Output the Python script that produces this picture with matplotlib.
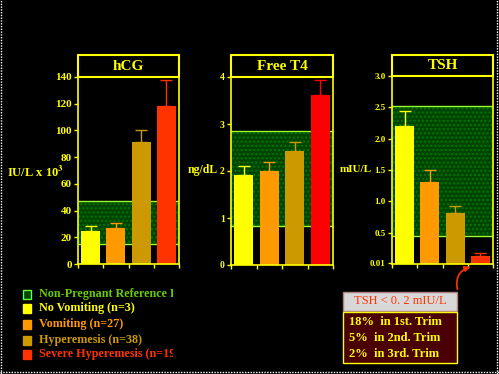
"""
Thyroid function vs vomiting severity in pregnancy: three bar panels
"""
import matplotlib
matplotlib.use("Agg")
from matplotlib import pyplot as plt
from matplotlib.patches import Rectangle, FancyArrowPatch
from matplotlib.lines import Line2D

plt.rcParams['font.family'] = ['Liberation Serif', 'DejaVu Serif']
plt.rcParams['font.weight'] = 'bold'
plt.rcParams['mathtext.fontset'] = 'stix'
plt.rcParams['hatch.linewidth'] = 1.0

groups = ['No Vomiting (n=3)', 'Vomiting (n=27)', 'Hyperemesis (n=38)', 'Severe Hyperemesis (n=19)']
bar_colors = ['#ffff00', '#ff9900', '#cc9900', '#ff3300']
t4_colors = ['#ffff00', '#ff9900', '#cc9900', '#ff0000']

hcg_mean = [25, 27, 91, 118]
hcg_err = [3.5, 3.8, 9, 19.5]
hcg_ref = (15, 47)
hcg_ticks = [0, 20, 40, 60, 80, 100, 120, 140]

t4_mean = [1.92, 2.0, 2.42, 3.61]
t4_err = [0.18, 0.2, 0.19, 0.33]
t4_ref = (0.83, 2.85)
t4_ticks = [0, 1, 2, 3, 4]

tsh_mean = [2.21, 1.31, 0.82, 0.13]
tsh_err = [0.23, 0.19, 0.11, 0.05]
tsh_ref = (0.45, 2.52)
tsh_ticks = [0.01, 0.5, 1.0, 1.5, 2.0, 2.5, 3.0]
tsh_ticklabels = ['0.01', '0.5', '1.0', '1.5', '2.0', '2.5', '3.0']

trim_lines = ['18%  in 1st. Trim', '5%  in 2nd. Trim', '2%  in 3rd. Trim']

YEL = '#ffff00'
W, H = 499, 374


def px(x0, y0, x1, y1):
    # pixel box (top-left origin) -> figure fraction rect
    return [x0 / W, 1 - y1 / H, (x1 - x0) / W, (y1 - y0) / H]


fig = plt.figure(figsize=(4.99, 3.74), dpi=100, facecolor='black')


def panel(rect, title, means, errs, colors, ref, ticks, ticklabels, ylim, tsize, ylabel, ylab_xy, ylab_size):
    ax = fig.add_axes(px(*rect))
    ax.set_facecolor('black')
    ax.axhspan(ref[0], ref[1], facecolor='#004400', hatch='....', edgecolor='#007700', lw=0, zorder=0)
    ax.axhline(ref[0], color='#99ff33', lw=1, zorder=1)
    ax.axhline(ref[1], color='#99ff33', lw=1, zorder=1)
    xs = [0.5, 1.5, 2.5, 3.5]
    for i in range(4):
        ax.bar(xs[i], means[i], width=0.76, color=colors[i], zorder=2)
        ax.errorbar(xs[i], means[i], yerr=[[0], [errs[i]]], ecolor=colors[i],
                    elinewidth=1, capsize=4, capthick=1, fmt='none', zorder=3)
    ax.set_xlim(0, 4)
    ax.set_ylim(*ylim)
    ax.set_xticks([0, 1, 2, 3, 4])
    ax.set_xticklabels([])
    ax.set_yticks(ticks)
    ax.set_yticklabels(ticklabels)
    ax.tick_params(colors=YEL, labelsize=tsize, length=3, width=1, pad=1.5)
    for s in ax.spines.values():
        s.set_color(YEL)
        s.set_linewidth(1.2)
    # title box above the axes
    tb = px(rect[0], 55, rect[2], rect[1])
    fig.add_artist(Rectangle((tb[0], tb[1]), tb[2], tb[3], transform=fig.transFigure,
                             facecolor='black', edgecolor=YEL, lw=1.5))
    fig.text(tb[0] + tb[2] / 2, tb[1] + tb[3] / 2, title, color=YEL, fontsize=11,
             ha='center', va='center')
    fig.text(ylab_xy[0] / W, 1 - ylab_xy[1] / H, ylabel, color=YEL, fontsize=ylab_size,
             ha='center', va='center')
    return ax


panel((78, 77, 179, 264), 'hCG', hcg_mean, hcg_err, bar_colors, hcg_ref, hcg_ticks,
      [str(t) for t in hcg_ticks], (0, 140), 8, r'IU/L x 10$^{\mathbf{3}}$', (36, 172), 9)
panel((231, 77, 333, 265), 'Free T4', t4_mean, t4_err, t4_colors, t4_ref, t4_ticks,
      [str(t) for t in t4_ticks], (0, 4), 7, 'ng/dL', (203, 170), 8.5)
ax3 = panel((392, 76, 493, 264), 'TSH', tsh_mean, tsh_err, bar_colors, tsh_ref, tsh_ticks,
            tsh_ticklabels, (0, 3.0), 6.5, 'mIU/L', (356, 169), 8)

# legend
leg_colors = ['#004400'] + bar_colors
leg_text_colors = ['#66cc00', YEL, '#ff9900', '#cc9900', '#ff3300']
leg_labels = ['Non-Pregnant Reference Range'] + groups
leg_y = [294, 308, 324, 340, 354]
for i in range(5):
    ec = '#66ff33' if i == 0 else leg_colors[i]
    fig.add_artist(Rectangle((23 / W, 1 - (leg_y[i] + 4.5) / H), 8 / W, 9 / H,
                             transform=fig.transFigure, facecolor=leg_colors[i],
                             edgecolor=ec, lw=1))
    clip = Rectangle((0, 0), 173 / W, 1, transform=fig.transFigure, visible=False)
    fig.add_artist(clip)
    t = fig.text(39 / W, 1 - leg_y[i] / H, leg_labels[i], color=leg_text_colors[i],
                 fontsize=8.7, ha='left', va='center')
    t.set_clip_path(clip)
    t.set_clip_on(True)

# TSH annotation boxes
b1 = px(343, 292, 457, 311)
fig.add_artist(Rectangle((b1[0], b1[1]), b1[2], b1[3], transform=fig.transFigure,
                         facecolor='#d8d8d8', edgecolor='#b08080', lw=1))
fig.text(b1[0] + b1[2] / 2, b1[1] + b1[3] / 2, 'TSH < 0. 2 mIU/L', color='#ff3300',
         fontsize=9, fontweight='normal', ha='center', va='center')
b2 = px(343, 312, 457, 363)
fig.add_artist(Rectangle((b2[0], b2[1]), b2[2], b2[3], transform=fig.transFigure,
                         facecolor='#4a0000', edgecolor=YEL, lw=1))
for i, s in enumerate(trim_lines):
    fig.text(349 / W, 1 - (322 + 16 * i) / H, s, color=YEL, fontsize=9,
             ha='left', va='center')

fig.add_artist(FancyArrowPatch((458 / W, 1 - 292 / H), (473 / W, 1 - 266 / H),
                               transform=fig.transFigure, connectionstyle='arc3,rad=-0.5',
                               arrowstyle='-|>', mutation_scale=8, color='#ff3300', lw=1.2))

# dotted frame
for xy in [((1 / W, 1 / W), (0, 1)), ((497 / W, 497 / W), (0, 1)), ((0, 1), (1 - 372 / H, 1 - 372 / H))]:
    fig.add_artist(Line2D(xy[0], xy[1], transform=fig.transFigure, color='white',
                          lw=1, linestyle=(0, (1, 1))))

plt.savefig('out.png', dpi=100, facecolor='black')
